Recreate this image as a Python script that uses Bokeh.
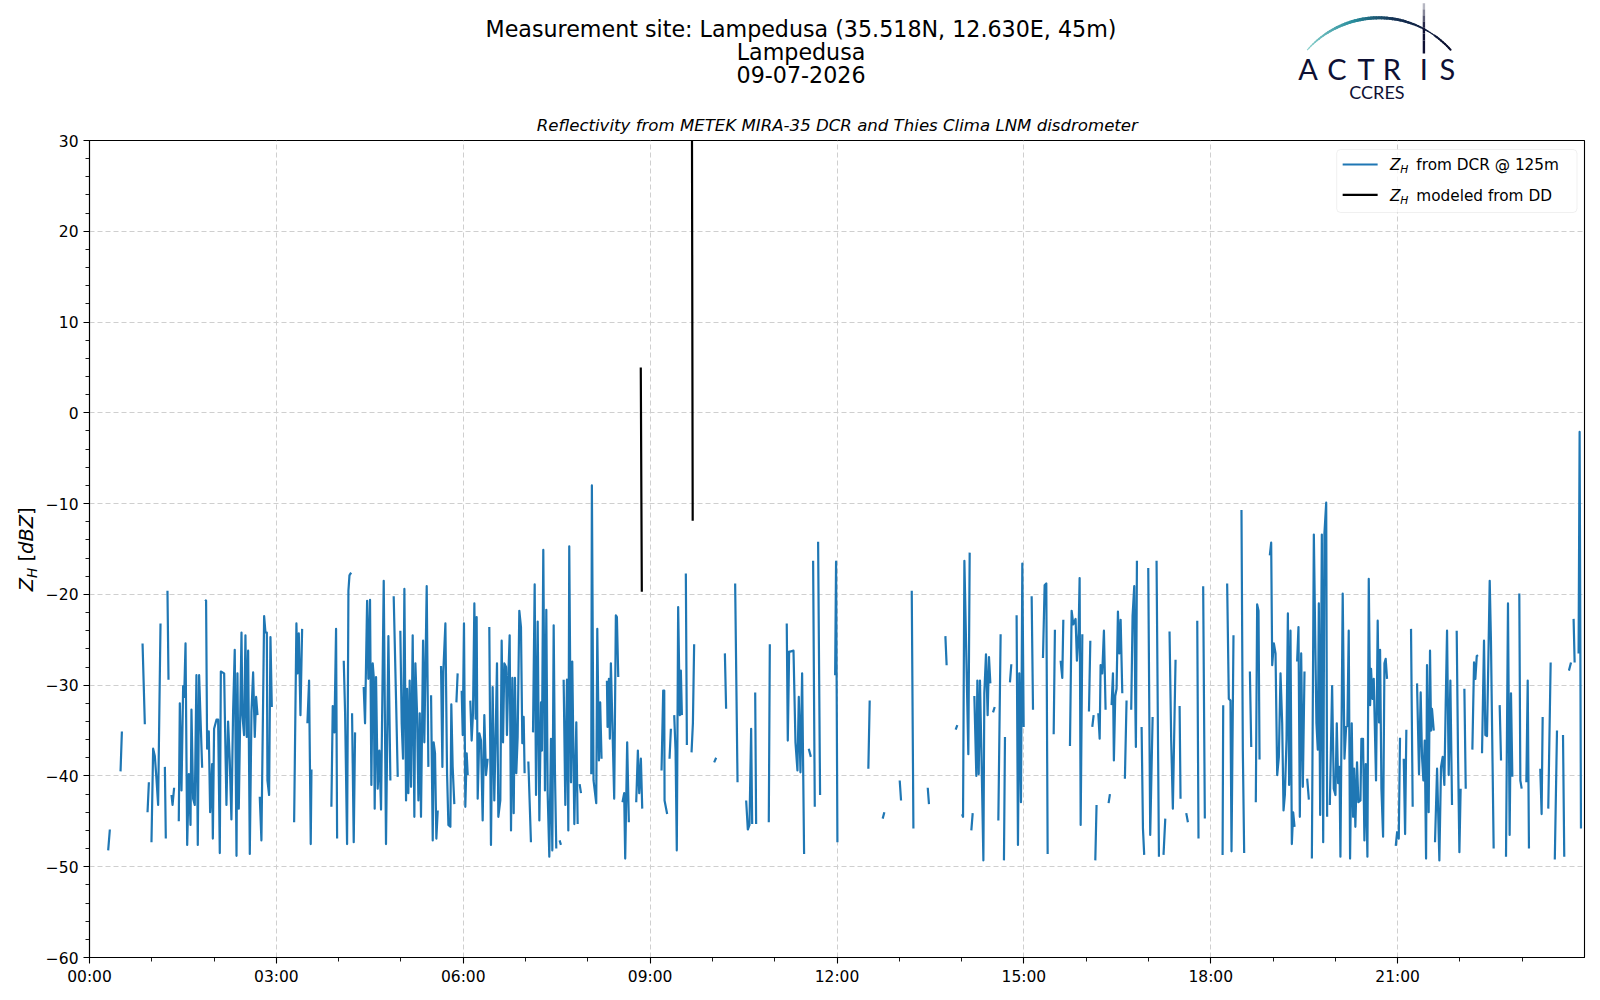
import math
from bokeh.plotting import figure
from bokeh.models import Range1d, FixedTicker, Label, BoxAnnotation
from bokeh.layouts import column, row
from bokeh.embed import file_html
from bokeh.resources import INLINE
from bokeh.core.properties import value

# ---------------- texts / ticks ----------------
TITLE_LINES = ["Measurement site: Lampedusa (35.518N, 12.630E, 45m)", "Lampedusa", "09-07-2026"]
SUBTITLE = "Reflectivity from METEK MIRA-35 DCR and Thies Clima LNM disdrometer"
LEGEND_DCR = "from DCR @ 125m"
LEGEND_DD = "modeled from DD"
X_TICKS = [0, 180, 360, 540, 720, 900, 1080, 1260]
X_TICK_LABELS = ["00:00", "03:00", "06:00", "09:00", "12:00", "15:00", "18:00", "21:00"]
X_MINOR = [60, 120, 240, 300, 420, 480, 600, 660, 780, 840, 960, 1020, 1140, 1200, 1320, 1380]
Y_TICKS = [-60, -50, -40, -30, -20, -10, 0, 10, 20, 30]
Y_TICK_LABELS = ["\u221260", "\u221250", "\u221240", "\u221230", "\u221220", "\u221210", "0", "10", "20", "30"]
Y_MINOR = [-58, -56, -54, -52, -48, -46, -44, -42, -38, -36, -34, -32, -28, -26, -24, -22,
           -18, -16, -14, -12, -8, -6, -4, -2, 2, 4, 6, 8, 12, 14, 16, 18, 22, 24, 26, 28]

# ---------------- data: (minute of day, dBZ), one list per continuous run ----------------
dcr_00_04 = [
    [(18.0, -48.2), (19.6, -45.9)],
    [(29.9, -39.5), (31.2, -35.1)],
    [(51.1, -25.4), (53.3, -34.3)],
    [(55.9, -44.0), (57.2, -40.7)],
    [(59.7, -47.3), (61.3, -37.0), (62.9, -37.8), (64.5, -40.3), (66.1, -43.2), (68.4, -23.2)],
    [(72.6, -39.0), (73.5, -46.9)],
    [(75.1, -19.6), (76.1, -29.4)],
    [(79.0, -42.1), (80.0, -43.2), (81.5, -41.3)],
    [(86.0, -45.0), (87.0, -32.0), (88.6, -41.6), (90.2, -30.1), (91.2, -31.3), (92.5, -25.4),
     (94.1, -47.6), (95.7, -39.8), (97.3, -45.4), (98.2, -32.7), (99.8, -42.5), (101.4, -43.2),
     (103.0, -28.9), (104.3, -47.6), (105.6, -28.9), (108.5, -39.1)],
    [(111.4, -20.6), (112.3, -20.7), (113.3, -37.0), (114.9, -35.1), (116.2, -44.0), (118.1, -38.7),
     (118.8, -46.9), (120.0, -34.8), (122.3, -33.8), (123.9, -33.8), (125.5, -48.5), (126.5, -28.5),
     (129.7, -28.7), (130.3, -32.9), (131.9, -43.2), (133.5, -34.0), (135.1, -38.3), (136.7, -44.8),
     (138.3, -33.0), (139.9, -26.1), (141.6, -48.8), (142.5, -28.7), (143.8, -43.6), (146.4, -24.2),
     (147.3, -33.3), (148.9, -35.5), (150.2, -24.5), (151.5, -35.7), (152.8, -26.2), (154.4, -48.6),
     (156.0, -33.0), (157.6, -28.6), (159.2, -35.7), (160.5, -31.3), (161.8, -33.3)],
    [(164.0, -42.3), (165.6, -47.1), (168.2, -22.4), (169.5, -24.2), (170.8, -24.2), (171.4, -40.5),
     (173.0, -42.1), (174.3, -24.7), (175.6, -32.4)],
    [(197.1, -45.1), (199.3, -23.2), (200.3, -28.7), (201.6, -24.3), (203.2, -33.3), (204.8, -23.8)],
    [(209.9, -34.2), (211.5, -29.5), (213.1, -47.5), (213.8, -39.3)],
    [(233.0, -43.4), (234.3, -32.3), (235.9, -35.2), (237.5, -23.8), (238.5, -46.9)],
]

dcr_04_08 = [
    [(244.9, -27.3), (246.2, -33.1), (248.1, -47.5), (249.4, -19.6), (250.4, -17.9), (252.0, -17.6)],
    [(252.9, -33.1), (254.5, -47.3), (255.8, -35.2)],
    [(264.1, -30.2), (265.4, -34.2), (267.4, -20.7), (268.6, -29.3), (270.2, -20.6), (271.5, -41.0),
     (272.8, -27.6), (273.8, -29.1), (274.7, -43.6), (276.0, -29.1), (277.6, -41.4), (279.2, -37.2),
     (280.8, -43.7), (283.4, -18.5), (285.6, -47.5), (287.9, -24.6), (289.8, -40.5)],
    [(293.0, -20.2), (295.3, -31.7), (296.9, -40.1)],
    [(299.4, -24.0), (300.7, -34.2), (302.0, -38.1), (303.3, -19.4), (304.9, -42.7), (305.9, -30.4),
     (307.1, -41.9), (308.4, -29.5), (309.7, -41.2), (311.3, -24.5), (312.9, -44.5), (313.9, -27.6),
     (315.5, -33.1), (316.8, -42.7), (318.1, -33.1), (319.3, -44.5), (321.3, -25.1), (322.5, -36.3),
     (324.8, -19.1), (326.4, -39.0)],
    [(329.0, -31.1), (330.6, -47.1), (331.5, -36.3), (332.8, -37.5), (334.1, -46.9), (335.4, -43.8)],
    [(338.6, -27.9), (339.9, -39.0), (340.8, -28.5), (342.8, -23.2), (344.4, -39.7), (345.7, -45.4),
     (347.6, -45.6), (348.5, -32.1), (349.8, -39.0), (351.4, -43.1)],
    [(353.4, -31.9), (354.6, -28.7)],
    [(358.5, -30.6), (359.5, -35.5), (360.7, -23.2), (362.0, -43.4), (363.3, -37.5), (364.3, -39.9)],
    [(366.8, -31.7), (368.1, -36.1), (369.4, -33.1), (370.7, -21.0), (372.0, -33.7), (372.9, -22.5),
     (373.9, -42.5), (375.5, -35.3), (377.1, -36.1), (378.7, -44.9), (380.3, -33.3), (381.9, -39.9),
     (383.5, -38.1)],
    [(385.1, -23.6), (386.7, -47.6), (388.3, -30.2), (389.9, -42.7), (391.5, -33.9), (392.5, -27.6),
     (393.8, -44.5), (395.7, -42.7), (397.0, -25.1), (398.3, -36.3), (399.6, -27.6), (401.2, -28.0),
     (402.1, -35.5), (403.4, -29.1), (404.7, -24.5), (406.0, -46.0), (407.3, -29.2), (408.6, -44.1),
     (409.8, -29.2), (411.1, -39.7), (412.4, -35.7), (414.0, -21.8), (415.6, -23.6), (416.9, -36.4),
     (418.2, -33.5), (419.1, -39.7)],
    [(422.7, -38.4), (425.2, -47.3)],
    [(427.2, -35.2), (428.8, -18.9), (430.1, -42.1), (431.7, -23.0), (433.3, -44.9), (434.9, -31.9),
     (435.8, -37.2), (437.1, -15.1), (438.7, -41.6), (440.0, -21.7), (441.3, -41.9), (442.9, -48.9),
     (444.5, -35.9), (445.8, -48.2), (447.1, -23.4), (448.3, -39.4), (449.6, -48.0)],
    [(452.8, -47.1), (454.1, -47.6)],
    [(456.7, -29.4), (458.3, -43.2), (459.9, -29.4), (461.2, -46.0), (462.1, -14.7), (463.8, -40.7),
     (465.0, -27.4), (467.0, -45.3), (468.9, -34.1), (470.2, -45.3)],
    [(472.1, -40.9), (473.4, -41.9)],
]

dcr_08_12 = [
    [(483.3, -39.8), (483.9, -8.0), (485.5, -40.5), (488.1, -43.0), (489.1, -23.8), (490.7, -38.3),
     (491.9, -31.9), (493.2, -38.1)],
    [(498.4, -29.5), (499.0, -34.6), (500.3, -29.3), (501.2, -35.9), (502.2, -27.6), (505.4, -42.5),
     (507.0, -22.3), (508.0, -22.5), (509.3, -29.1)],
    [(513.4, -42.9), (515.0, -41.9), (516.0, -49.1), (517.9, -36.3), (519.5, -45.1)],
    [(526.6, -42.9), (528.2, -37.2), (529.5, -41.9), (531.1, -38.1), (532.4, -43.6)],
    [(551.0, -39.4), (552.6, -30.6), (553.6, -30.6), (553.9, -42.7), (556.4, -44.2)],
    [(558.7, -38.1), (560.0, -34.8)],
    [(563.2, -33.3), (564.5, -37.2), (565.7, -48.2), (567.0, -21.4), (568.6, -33.3), (569.6, -28.4),
     (570.6, -33.3)],
    [(574.4, -17.7), (575.4, -36.6)],
    [(579.9, -37.4), (581.2, -34.2), (582.4, -25.5)],
    [(601.7, -38.5), (603.6, -38.0)],
    [(612.0, -26.5), (613.2, -32.6)],
    [(621.9, -18.8), (624.2, -40.7)],
    [(632.5, -42.7), (634.1, -45.9), (635.7, -45.4), (637.3, -34.8), (638.3, -45.3)],
    [(641.2, -30.8), (642.1, -45.3)],
    [(654.3, -45.1), (655.3, -25.5)],
    [(671.6, -23.2), (672.6, -36.1), (673.9, -26.3), (674.9, -26.3), (678.1, -26.2), (680.0, -36.3),
     (681.9, -39.4), (683.2, -31.3), (684.8, -39.6), (686.4, -28.7), (688.3, -48.6)],
    [(692.8, -37.0), (694.8, -37.9)],
    [(697.0, -16.3), (698.6, -43.4)],
    [(701.8, -14.2), (703.7, -42.1)],
    [(718.2, -28.9), (719.1, -16.4), (720.4, -47.3)],
]

dcr_12_16 = [
    [(750.2, -39.2), (751.5, -31.7)],
    [(764.0, -44.7), (765.6, -44.0)],
    [(780.4, -40.5), (781.7, -42.7)],
    [(792.0, -19.6), (793.6, -45.8)],
    [(807.4, -41.3), (808.6, -43.1)],
    [(824.4, -24.6), (825.6, -27.8)],
    [(834.3, -34.9), (835.9, -34.4)],
    [(840.4, -44.2), (841.4, -44.5), (842.7, -16.3), (846.5, -37.6), (847.8, -15.4)],
    [(849.4, -46.0), (850.7, -44.1)],
    [(852.3, -31.2), (854.2, -40.0), (855.2, -29.5), (856.5, -39.8), (857.7, -29.5), (859.3, -38.6),
     (861.0, -49.3), (861.9, -30.9), (863.5, -26.6), (865.1, -33.3), (866.4, -26.9), (867.7, -29.8)],
    [(870.3, -33.0), (871.9, -32.4)],
    [(875.4, -44.9), (877.6, -24.4)],
    [(880.8, -49.3), (881.8, -35.7)],
    [(886.6, -29.7), (887.9, -27.7)],
    [(893.0, -22.3), (894.3, -47.6), (895.6, -28.7), (897.2, -42.9), (898.5, -16.6), (899.8, -34.6)],
    [(907.5, -20.2), (908.8, -32.7)],
    [(918.4, -27.0), (920.0, -19.0), (921.6, -18.8), (922.9, -48.6)],
    [(928.7, -35.4), (929.9, -23.9)],
    [(935.4, -27.3), (937.0, -29.2), (938.0, -22.8)],
    [(944.4, -36.7), (946.0, -21.8), (947.6, -23.3), (949.8, -22.7), (951.1, -27.3), (952.7, -24.3),
     (953.7, -18.2), (954.7, -45.4), (956.3, -24.4)],
    [(962.7, -32.9), (964.0, -25.1)],
    [(965.9, -34.6), (967.2, -33.3)],
    [(968.8, -49.3), (970.0, -43.2)],
    [(971.7, -33.1), (973.0, -35.9), (973.9, -27.8), (975.5, -28.7), (977.1, -24.0), (978.7, -32.7)],
    [(981.6, -43.0), (982.9, -42.0)],
]

dcr_16_20 = [
    [(984.5, -32.2), (985.8, -28.7), (986.7, -38.3), (988.0, -31.2), (989.3, -30.4), (990.6, -21.9),
     (991.9, -26.5), (993.2, -22.8), (994.8, -30.9)],
    [(997.3, -40.3), (998.9, -31.7)],
    [(1003.4, -32.7), (1004.7, -22.4), (1006.3, -19.1), (1007.3, -31.7), (1007.9, -36.8), (1008.9, -16.3)],
    [(1013.4, -34.6), (1014.7, -45.8), (1015.9, -48.7)],
    [(1019.8, -17.1), (1021.7, -46.5), (1024.0, -33.5)],
    [(1027.8, -16.3), (1030.1, -48.9)],
    [(1034.5, -48.7), (1036.2, -44.7)],
    [(1040.3, -24.1), (1041.9, -36.1), (1043.5, -43.6), (1046.1, -27.2)],
    [(1050.0, -32.3), (1050.9, -42.5)],
    [(1056.4, -44.1), (1058.0, -45.1)],
    [(1067.0, -22.9), (1068.2, -46.9)],
    [(1072.7, -19.1), (1074.3, -44.7)],
    [(1091.4, -48.7), (1092.0, -32.2)],
    [(1095.8, -18.8), (1097.4, -31.5), (1099.0, -31.7), (1100.0, -48.3), (1101.9, -24.5)],
    [(1109.6, -10.7), (1110.9, -37.2), (1112.2, -48.5)],
    [(1117.7, -28.5), (1119.0, -36.8)],
    [(1123.4, -42.9), (1124.7, -21.1), (1126.0, -21.8), (1127.0, -38.2)],
    [(1136.9, -15.7), (1138.2, -14.3), (1139.2, -27.8), (1140.8, -25.4), (1142.4, -26.5), (1144.0, -39.9),
     (1145.6, -37.9), (1147.2, -28.7), (1148.8, -34.2), (1150.1, -43.8), (1151.4, -42.1), (1153.0, -35.9),
     (1154.3, -22.1), (1155.5, -41.0), (1156.8, -24.0), (1158.1, -47.5), (1159.4, -44.0), (1160.7, -45.6)],
    [(1163.2, -27.4), (1164.5, -23.6), (1165.8, -44.5), (1167.1, -26.5), (1168.7, -41.2), (1170.3, -28.5)],
    [(1172.9, -40.3), (1174.5, -42.6)],
    [(1177.4, -49.1), (1179.3, -13.4), (1180.6, -24.5), (1181.8, -34.2), (1183.1, -37.1), (1184.1, -21.0),
     (1185.4, -44.3), (1187.0, -13.4), (1188.3, -47.3), (1189.5, -13.3), (1191.2, -9.9), (1192.1, -44.5)],
]

dcr_20_24 = [
    [(1194.7, -43.2), (1196.9, -30.1), (1198.5, -41.4), (1200.1, -42.1), (1201.4, -34.2), (1202.7, -40.8),
     (1204.0, -39.0), (1204.9, -48.9), (1207.1, -19.9), (1208.8, -38.1), (1210.4, -34.6), (1211.6, -34.5),
     (1212.9, -24.0), (1214.2, -49.1), (1215.8, -34.2), (1217.1, -44.5), (1218.1, -39.2), (1219.3, -45.6),
     (1220.9, -38.5), (1222.2, -42.9), (1224.2, -42.7), (1225.1, -35.9), (1226.7, -35.9), (1228.0, -47.1),
     (1229.3, -38.7), (1230.9, -48.9), (1232.2, -18.3), (1233.5, -32.2), (1234.4, -28.2), (1235.7, -31.5),
     (1237.0, -29.3), (1239.2, -40.5), (1240.8, -22.9), (1242.1, -34.1), (1243.1, -26.1), (1244.4, -41.4),
     (1246.0, -46.7), (1247.3, -27.6), (1248.5, -27.1), (1249.8, -29.3)],
    [(1258.2, -47.7), (1259.5, -46.2), (1261.1, -46.9), (1262.3, -35.8)],
    [(1265.9, -38.1), (1267.2, -46.4), (1268.4, -34.9)],
    [(1272.9, -23.8), (1274.5, -43.4)],
    [(1278.7, -29.8), (1280.6, -39.8), (1282.2, -30.8), (1283.5, -37.9), (1284.8, -40.5), (1286.1, -36.1),
     (1287.4, -49.1), (1288.3, -27.8), (1289.9, -44.0), (1291.2, -26.2), (1292.2, -35.0), (1293.1, -32.6),
     (1294.8, -35.0)],
    [(1296.0, -47.3), (1298.0, -39.2), (1300.2, -49.3), (1301.8, -39.0), (1303.4, -37.9), (1305.0, -41.0),
     (1306.3, -32.2), (1307.6, -24.0), (1309.2, -39.9), (1310.8, -29.5), (1312.4, -43.2)],
    [(1316.9, -24.0), (1318.2, -37.9), (1319.5, -48.4), (1320.7, -41.4)],
    [(1324.3, -30.4), (1325.6, -41.4)],
    [(1332.0, -37.1), (1333.6, -27.5), (1334.9, -29.3), (1336.2, -26.8), (1337.4, -26.7)],
    [(1341.3, -37.5), (1343.2, -25.1), (1344.5, -35.5), (1346.1, -35.6), (1347.7, -25.1), (1348.7, -18.5),
     (1349.9, -25.1), (1352.5, -48.0)],
    [(1358.3, -32.2), (1359.6, -38.3)],
    [(1364.4, -48.9), (1366.3, -21.0), (1367.9, -46.5), (1369.2, -30.9), (1370.5, -40.1)],
    [(1377.2, -19.9), (1378.2, -40.5), (1379.5, -41.4)],
    [(1384.0, -40.7), (1385.3, -29.5), (1386.5, -48.0)],
    [(1397.4, -39.2), (1398.7, -44.2), (1399.7, -33.5)],
    [(1405.1, -43.6), (1407.4, -27.5)],
    [(1411.4, -49.2), (1413.5, -35.0)],
    [(1419.3, -35.5), (1420.5, -48.9)],
    [(1425.0, -28.4), (1427.0, -27.5)],
    [(1429.5, -22.7), (1430.5, -27.5)],
    [(1434.3, -26.5), (1435.3, -2.1), (1436.6, -45.8)],
]

dd_model = [
    [(531.0, 5.0), (532.0, -19.7)],
    [(580.2, 38.0), (581.0, -11.9)],
]


def to_xy(blocks):
    xs, ys = [], []
    for block in blocks:
        for seg in block:
            for t, v in seg:
                xs.append(t)
                ys.append(v)
            xs.append(float("nan"))
            ys.append(float("nan"))
    return xs, ys


dcr_x, dcr_y = to_xy([dcr_00_04, dcr_04_08, dcr_08_12, dcr_12_16, dcr_16_20, dcr_20_24])
dd_x, dd_y = to_xy([dd_model])

FONT = "DejaVu Sans"
NAVY = "#0e1034"

# page geometry (pixels): left strip 0..LW, plot frame x 88..1584, y 140..957
LW = 42
MBL = 88 - LW
MW = 1596 - LW
HH = 134
MTOP = 6
MH = MTOP + 817 + 40


def blank(fig):
    fig.outline_line_color = None
    fig.background_fill_color = "white"
    fig.border_fill_color = "white"
    return fig


# ---------------- header figure (page pixel coordinates, y downwards) ----------------
h = blank(figure(width=MW, height=HH, x_range=Range1d(88, 1584), y_range=Range1d(HH, 0),
                 output_backend="svg", toolbar_location=None, x_axis_type=None, y_axis_type=None,
                 title=None, min_border_left=MBL, min_border_right=12, min_border_top=0,
                 min_border_bottom=0))

h.text(x=[800, 800, 800], y=[28.5, 51.0, 73.7], text=TITLE_LINES,
       text_font=value(FONT), text_font_size="22.2px", text_align="center",
       text_baseline="alphabetic", text_color="black")
h.text(x=[836.3], y=[124.7], text=[SUBTITLE], text_font=value(FONT), text_font_size="16.6px",
       text_font_style="italic", text_align="center", text_baseline="alphabetic", text_color="black")

# logo arc through three points (gradient teal -> navy)
(x1, y1), (x2, y2), (x3, y3) = (1306.7, 49.3), (1376.7, 17.3), (1450.0, 49.3)
d = 2 * (x1 * (y2 - y3) + x2 * (y3 - y1) + x3 * (y1 - y2))
ux = ((x1**2 + y1**2) * (y2 - y3) + (x2**2 + y2**2) * (y3 - y1) + (x3**2 + y3**2) * (y1 - y2)) / d
uy = ((x1**2 + y1**2) * (x3 - x2) + (x2**2 + y2**2) * (x1 - x3) + (x3**2 + y3**2) * (x2 - x1)) / d
r = math.hypot(x1 - ux, y1 - uy)
a0 = math.atan2(y1 - uy, x1 - ux)
a1 = math.atan2(y3 - uy, x3 - ux)
if a1 < a0:
    a1 += 2 * math.pi
N = 60
stops = [(0.0, (140, 210, 205)), (0.35, (40, 140, 156)), (0.6, (22, 50, 85)), (1.0, (12, 15, 46))]


def grad(f):
    for (fa, ca), (fb, cb) in zip(stops[:-1], stops[1:]):
        if fa <= f <= fb:
            k = (f - fa) / (fb - fa)
            c = [int(ca[i] + (cb[i] - ca[i]) * k) for i in range(3)]
            return "#%02x%02x%02x" % tuple(c)
    return "#0c0f2e"


sx0, sy0, sx1, sy1, cols, wids = [], [], [], [], [], []
for i in range(N):
    f0, f1 = i / N, (i + 1) / N
    b0 = a0 + (a1 - a0) * f0
    b1 = a0 + (a1 - a0) * f1
    sx0.append(ux + r * math.cos(b0))
    sy0.append(uy + r * math.sin(b0))
    sx1.append(ux + r * math.cos(b1))
    sy1.append(uy + r * math.sin(b1))
    fm = (f0 + f1) / 2
    cols.append(grad(fm))
    wids.append(1.0 + 2.2 * math.sin(math.pi * min(1.0, fm * 1.15)) if fm < 0.87 else 2.0)
h.segment(x0=sx0, y0=sy0, x1=sx1, y1=sy1, line_color=cols, line_width=wids, line_cap="round")
# vertical stroke of the logo (fading upwards)
vy = [2.7, 9, 15, 21, 27, 33, 40, 53]
h.segment(x0=[1423.3] * 7, y0=vy[:-1], x1=[1423.3] * 7, y1=vy[1:], line_color=NAVY,
          line_alpha=[0.3, 0.5, 0.7, 0.9, 1, 1, 1], line_width=2.4)
h.text(x=[1307.4, 1336.3, 1365.3, 1391.3, 1423.3, 1446.7], y=[68.1] * 6,
       text=["A", "C", "T", "R", "I", "S"], text_font=value("Lato"), text_font_size="29px",
       text_align="center", text_baseline="alphabetic", text_color=NAVY)
h.text(x=[1376.3], y=[91.5], text=["CCRES"], text_font=value("Lato"), text_font_size="18px",
       text_align="center", text_baseline="alphabetic", text_color=NAVY)

# ---------------- left strip with the y-axis label (page pixel coordinates) ----------------
lf = blank(figure(width=LW, height=HH + MH, x_range=Range1d(0, LW), y_range=Range1d(HH + MH, 0),
                  output_backend="svg", toolbar_location=None, x_axis_type=None, y_axis_type=None,
                  title=None, min_border_left=0, min_border_right=0, min_border_top=0,
                  min_border_bottom=0))
ylab = [("Z", 25.7, 590.7, "19.4px", "italic"), ("H", 31.2, 577.4, "13.6px", "italic"),
        ("[", 25.7, 561.0, "19.4px", "normal"), ("dBZ", 25.7, 553.4, "19.4px", "italic"),
        ("]", 25.7, 514.5, "19.4px", "normal")]
for txt, px, py, fs, st in ylab:
    lf.text(x=[px], y=[py], text=[txt], angle=math.pi / 2, text_font=value(FONT),
            text_font_size=fs, text_font_style=st, text_align="left",
            text_baseline="alphabetic", text_color="black")

# ---------------- main figure ----------------
p = figure(width=MW, height=MH, x_range=Range1d(0, 1440), y_range=Range1d(-60, 30),
           output_backend="svg", toolbar_location=None, title=None,
           min_border_left=MBL, min_border_right=12, min_border_top=MTOP, min_border_bottom=40)
p.background_fill_color = "white"
p.border_fill_color = "white"
p.outline_line_color = "black"
p.outline_line_width = 1.1

p.xaxis.ticker = FixedTicker(ticks=X_TICKS, minor_ticks=X_MINOR)
p.xaxis.major_label_overrides = dict(zip(X_TICKS, X_TICK_LABELS))
p.yaxis.ticker = FixedTicker(ticks=Y_TICKS, minor_ticks=Y_MINOR)
p.yaxis.major_label_overrides = dict(zip(Y_TICKS, Y_TICK_LABELS))
for ax in (p.xaxis, p.yaxis):
    ax.axis_line_color = "black"
    ax.axis_line_width = 1.1
    ax.major_tick_line_color = "black"
    ax.minor_tick_line_color = "black"
    ax.major_tick_line_width = 1.1
    ax.minor_tick_line_width = 0.9
    ax.major_tick_in = 0
    ax.major_tick_out = 6
    ax.minor_tick_in = 0
    ax.minor_tick_out = 4
    ax.major_label_text_font = FONT
    ax.major_label_text_font_size = "15.5px"
    ax.major_label_text_color = "black"
p.xaxis.major_label_standoff = 4
p.yaxis.major_label_standoff = 5

for g in (p.xgrid, p.ygrid):
    g.grid_line_color = "#cfcfcf"
    g.grid_line_width = 1
    g.grid_line_dash = "5 3"
p.xgrid.ticker = FixedTicker(ticks=X_TICKS)
p.ygrid.ticker = FixedTicker(ticks=Y_TICKS)

p.line(x=dcr_x, y=dcr_y, line_color="#1f77b4", line_width=2.2, line_join="round")
p.line(x=dd_x, y=dd_y, line_color="black", line_width=2.2, line_join="round")

# page pixel -> data helpers for the legend (frame: page x 88..1584, y 140..957)
FX0, FW, FY0, FH = 88.0, 1496.0, 140.0, 817.0


def fx(px):
    return (px - FX0) * 1440.0 / FW


def fy(py):
    return 30.0 - (py - FY0) * 90.0 / FH


p.add_layout(BoxAnnotation(left=fx(1336), right=fx(1576.5), top=fy(149), bottom=fy(212),
                           fill_color="white", fill_alpha=0.8, line_color="#cccccc",
                           line_width=1, border_radius=4, level="annotation"))
p.segment(x0=[fx(1342), fx(1342)], y0=[fy(164), fy(194.3)], x1=[fx(1377), fx(1377)],
          y1=[fy(164), fy(194.3)], line_color=["#1f77b4", "black"], line_width=2.2, level="overlay")
for txt, base, hbase in [(LEGEND_DCR, 164.0, 168.7), (LEGEND_DD, 195.0, 199.7)]:
    p.add_layout(Label(x=fx(1389.3), y=fy(base), text="Z", text_font=FONT, text_font_size="15.3px",
                       text_font_style="italic", text_baseline="alphabetic", text_color="black"))
    p.add_layout(Label(x=fx(1399.6), y=fy(hbase), text="H", text_font=FONT, text_font_size="10.7px",
                       text_font_style="italic", text_baseline="alphabetic", text_color="black"))
    p.add_layout(Label(x=fx(1415.7), y=fy(base), text=txt, text_font=FONT, text_font_size="15.3px",
                       text_baseline="alphabetic", text_color="black"))

layout = row(lf, column(h, p))
open("out.html", "w").write(file_html(layout, INLINE, title="Reflectivity Lampedusa"))
